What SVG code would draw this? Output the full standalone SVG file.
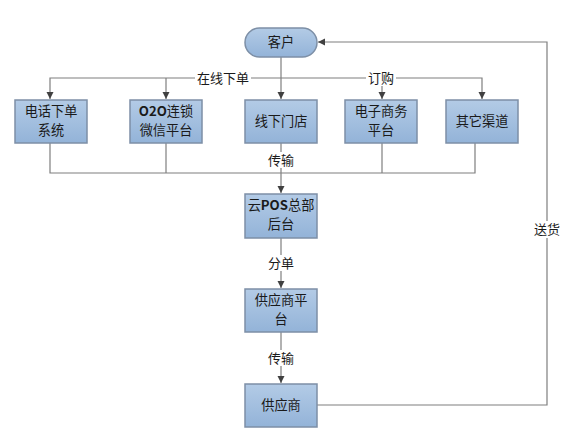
<svg xmlns="http://www.w3.org/2000/svg" width="572" height="439" viewBox="0 0 572 439">
<defs>
<linearGradient id="g" x1="0" y1="0" x2="0" y2="1">
<stop offset="0" stop-color="#b3cbe6"/>
<stop offset="1" stop-color="#93b3d8"/>
</linearGradient>
<marker id="ar" markerWidth="8" markerHeight="8" refX="7" refY="4" orient="auto" markerUnits="userSpaceOnUse">
<path d="M0,0.5 L7,4 L0,7.5 Z" fill="#404040"/>
</marker>
<style>
.box{fill:url(#g);stroke:#7d8fa6;stroke-width:1.5}
.t{font-family:"Noto Sans CJK SC","Microsoft YaHei",sans-serif;font-size:13.2px;fill:#1a1a1a;text-anchor:middle}
.l{font-family:"Noto Sans CJK SC",sans-serif;font-size:13px;fill:#1a1a1a;text-anchor:middle}
.c{fill:none;stroke:#7f7f7f;stroke-width:1.2}
.bg{fill:#fff}
</style>
</defs>
<rect width="572" height="439" fill="#fff"/>
<g id="connectors">
<path class="c" d="M281,57 V99" marker-end="url(#ar)"/>
<path class="c" d="M281,78 H50 V99" marker-end="url(#ar)"/>
<path class="c" d="M166,78 V99" marker-end="url(#ar)"/>
<path class="c" d="M281,78 H482 V99" marker-end="url(#ar)"/>
<path class="c" d="M382,78 V99" marker-end="url(#ar)"/>
<path class="c" d="M50,143 V173 H475 V143"/>
<path class="c" d="M166,143 V173"/>
<path class="c" d="M382,143 V173"/>
<path class="c" d="M281,143 V193" marker-end="url(#ar)"/>
<path class="c" d="M281,238 V288" marker-end="url(#ar)"/>
<path class="c" d="M281,332 V383" marker-end="url(#ar)"/>
<path class="c" d="M317,405 H547 V42 H318" marker-end="url(#ar)"/>
<rect class="bg" x="195" y="70" width="56" height="16"/>
<text class="l" x="223" y="83">在线下单</text>
<rect class="bg" x="366" y="70" width="30" height="16"/>
<text class="l" x="381" y="83">订购</text>
<rect class="bg" x="266" y="152" width="30" height="16"/>
<text class="l" x="281" y="165">传输</text>
<rect class="bg" x="266" y="255" width="30" height="16"/>
<text class="l" x="281" y="268">分单</text>
<rect class="bg" x="266" y="350" width="30" height="16"/>
<text class="l" x="281" y="363">传输</text>
<rect class="bg" x="532" y="221" width="30" height="17"/>
<text class="l" x="547" y="234">送货</text>
</g>
<g id="customer">
<rect class="box" x="245" y="28" width="72" height="29" rx="14.5" ry="14.5"/>
<text class="t" x="281" y="47">客户</text>
</g>
<g id="phone">
<rect class="box" x="15" y="100" width="72" height="43"/>
<text class="t" x="51" y="116">电话下单</text>
<text class="t" x="51" y="135">系统</text>
</g>
<g id="o2o">
<rect class="box" x="130" y="100" width="72" height="43"/>
<text class="t" x="166" y="116"><tspan font-weight="bold">O2O</tspan>连锁</text>
<text class="t" x="166" y="135">微信平台</text>
</g>
<g id="store">
<rect class="box" x="245" y="100" width="72" height="43"/>
<text class="t" x="281" y="126">线下门店</text>
</g>
<g id="ecommerce">
<rect class="box" x="345" y="100" width="72" height="43"/>
<text class="t" x="381" y="116">电子商务</text>
<text class="t" x="381" y="135">平台</text>
</g>
<g id="other">
<rect class="box" x="446" y="100" width="72" height="43"/>
<text class="t" x="482" y="126">其它渠道</text>
</g>
<g id="cloudpos">
<rect class="box" x="245" y="194" width="72" height="44"/>
<text class="t" x="281" y="210">云<tspan font-weight="bold">POS</tspan>总部</text>
<text class="t" x="281" y="229">后台</text>
</g>
<g id="supplierplatform">
<rect class="box" x="245" y="289" width="72" height="43"/>
<text class="t" x="281" y="305">供应商平</text>
<text class="t" x="281" y="324">台</text>
</g>
<g id="supplier">
<rect class="box" x="245" y="384" width="72" height="43"/>
<text class="t" x="281" y="410">供应商</text>
</g>
</svg>
